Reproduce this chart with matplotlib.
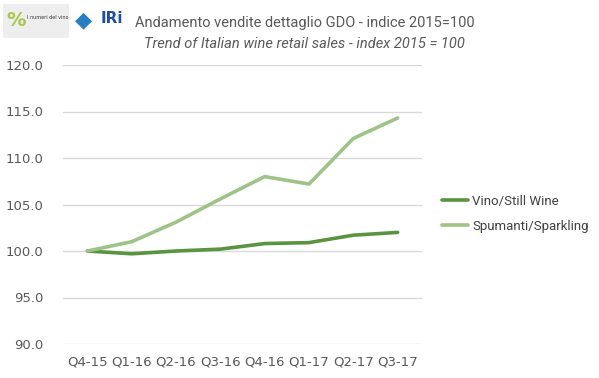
import numpy as np
import matplotlib.pyplot as plt

quarters = ['Q4-15', 'Q1-16', 'Q2-16', 'Q3-16', 'Q4-16', 'Q1-17', 'Q2-17', 'Q3-17']
still_wine = [100.0, 99.7, 100.0, 100.2, 100.8, 100.9, 101.7, 102.0]
sparkling = [100.0, 101.0, 103.1, 105.6, 108.0, 107.2, 112.1, 114.3]
yticks = [90, 95, 100, 105, 110, 115, 120]

fig = plt.figure(figsize=(5.99, 3.78), dpi=100)
ax = fig.add_axes([63/599, 1-344/378, (422-63)/599, (344-65)/378])

x = np.arange(len(quarters))
ax.plot(x, still_wine, color='#5a9440', linewidth=2.6, label='Vino/Still Wine', solid_capstyle='round')
ax.plot(x, sparkling, color='#9dc486', linewidth=2.6, label='Spumanti/Sparkling', solid_capstyle='round')

ax.set_ylim(90, 120)
ax.set_xlim(-0.55, len(quarters) - 0.45)
ax.set_yticks(yticks)
ax.set_yticklabels(['%.1f' % v for v in yticks])
ax.set_xticks(x)
ax.set_xticklabels(quarters)
ax.grid(axis='y', color='#d9d9d9', linewidth=1)
ax.set_axisbelow(True)
for s in ax.spines.values():
    s.set_visible(False)
ax.tick_params(length=0, labelsize=9.5, colors='#595959', pad=8)
ax.tick_params(axis='y', pad=14)

ax.legend(loc='center left', bbox_to_anchor=(1.056, 0.466), frameon=False,
          borderaxespad=0, borderpad=0, handlelength=2.0, handletextpad=0.3,
          labelspacing=0.9, labelcolor='#404040',
          prop={'family': 'Roboto', 'size': 9.5})

fig.text(0.509, 0.939, 'Andamento vendite dettaglio GDO - indice 2015=100',
         ha='center', va='center', fontsize=10.5, color='#595959', family='Roboto')
fig.text(0.509, 0.884, 'Trend of Italian wine retail sales - index 2015 = 100',
         ha='center', va='center', fontsize=10.5, color='#595959', style='italic', family='Roboto')

# logos (approximate)
fig.patches.append(plt.Rectangle((0.005, 0.90), 0.11, 0.09, transform=fig.transFigure,
                                 facecolor='#eeeeee', edgecolor='none'))
fig.text(0.045, 0.955, 'I numeri del vino', fontsize=3.5, color='#333333', va='center')
fig.text(0.01, 0.945, '%', fontsize=14, color='#a8c64a', va='center', fontweight='bold')
fig.text(0.125, 0.945, '\u25c6', fontsize=16, color='#2a7fc1', va='center')
fig.text(0.168, 0.95, 'IRi', fontsize=11, color='#1f4f9c', va='center', fontweight='bold')

fig.savefig('out.png', dpi=100)
